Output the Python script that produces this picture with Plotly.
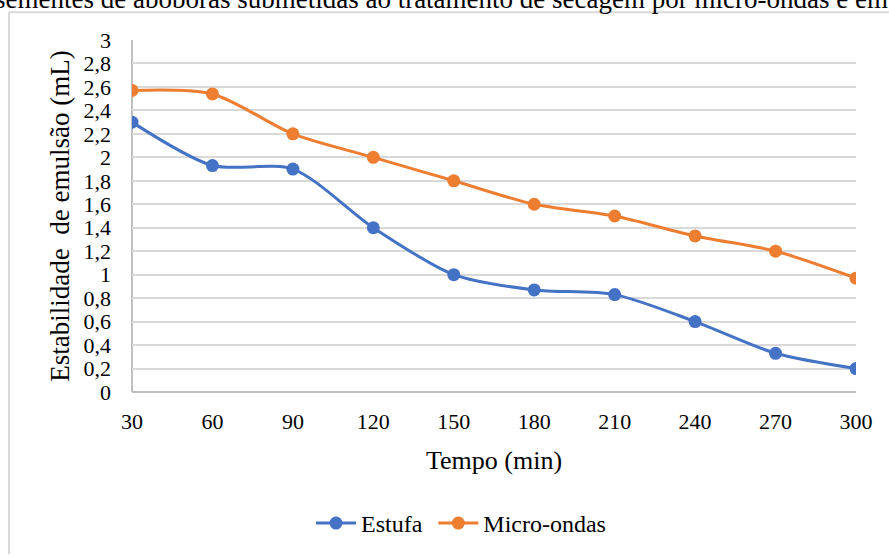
import plotly.graph_objects as go

# Drying time (min)
tempo = [30, 60, 90, 120, 150, 180, 210, 240, 270, 300]
# Emulsion stability (mL) per drying method
estufa = [2.30, 1.93, 1.90, 1.40, 1.00, 0.87, 0.83, 0.60, 0.33, 0.20]
micro_ondas = [2.57, 2.54, 2.20, 2.00, 1.80, 1.60, 1.50, 1.33, 1.20, 0.97]
y_ticks = [0, 0.2, 0.4, 0.6, 0.8, 1, 1.2, 1.4, 1.6, 1.8, 2, 2.2, 2.4, 2.6, 2.8, 3]
y_tick_text = [f"{v:g}".replace(".", ",") for v in y_ticks]

W, H = 889, 558
L, R, T, B = 132, 33, 40, 162
pw, ph = W - L - R, H - T - B


def px_x(p):
    return (p - L) / pw


def px_y(p):
    return (H - B - p) / ph


FONT = "Liberation Serif, Times New Roman, serif"
BLUE = "#4472C4"
ORANGE = "#ED7D31"

fig = go.Figure()
fig.add_trace(go.Scatter(
    x=tempo, y=estufa, name="Estufa ", mode="lines+markers",
    line=dict(color=BLUE, width=3, shape="spline", smoothing=0.8),
    marker=dict(color=BLUE, size=13),
))
fig.add_trace(go.Scatter(
    x=tempo, y=micro_ondas, name="Micro-ondas", mode="lines+markers",
    line=dict(color=ORANGE, width=3, shape="spline", smoothing=0.8),
    marker=dict(color=ORANGE, size=13),
))

fig.update_layout(
    width=W, height=H,
    margin=dict(l=L, r=R, t=T, b=B, pad=0),
    paper_bgcolor="white", plot_bgcolor="white",
    font=dict(family=FONT, color="#000000", size=22),
    showlegend=True,
    legend=dict(
        orientation="h", x=px_x(461), y=px_y(529),
        xanchor="center", yanchor="middle",
        font=dict(size=24, family=FONT), itemwidth=40,
        bgcolor="rgba(0,0,0,0)",
    ),
    xaxis=dict(
        range=[30, 300], tickvals=tempo, ticktext=[str(t) for t in tempo],
        showgrid=False, zeroline=False, showline=False,
        ticks="", ticklabelstandoff=14,
        tickfont=dict(size=22, family=FONT),
        title=dict(text="Tempo (min)", font=dict(size=26, family=FONT), standoff=17),
    ),
    yaxis=dict(
        range=[0, 3], tickvals=y_ticks, ticktext=y_tick_text,
        showgrid=True, gridcolor="#d9d9d9", gridwidth=2,
        zeroline=False, showline=False,
        ticks="", ticklabelstandoff=20,
        tickfont=dict(size=22, family=FONT),
        title=dict(text="Estabilidade  de emulsão (mL)", font=dict(size=27, family=FONT), standoff=6),
    ),
    shapes=[
        # axis lines
        dict(type="line", xref="paper", yref="paper", x0=0, x1=1, y0=0, y1=0,
             line=dict(color="#bfbfbf", width=2), layer="below"),
        dict(type="line", xref="paper", yref="paper", x0=0, x1=0, y0=0, y1=1,
             line=dict(color="#bfbfbf", width=2), layer="below"),
        # chart frame
        dict(type="line", xref="paper", yref="paper",
             x0=px_x(9), x1=px_x(9), y0=px_y(H + 2), y1=px_y(12),
             line=dict(color="#d9d9d9", width=2)),
        dict(type="line", xref="paper", yref="paper",
             x0=px_x(9), x1=px_x(W + 2), y0=px_y(12), y1=px_y(12),
             line=dict(color="#d9d9d9", width=2)),
    ],
    annotations=[
        dict(text="sementes de abóboras submetidas ao tratamento de secagem por micro-ondas e em",
             xref="paper", yref="paper", x=px_x(890), y=px_y(16),
             xanchor="right", yanchor="bottom", showarrow=False,
             font=dict(size=27, family=FONT, color="#000000")),
    ],
)

fig.write_html("out.html")
